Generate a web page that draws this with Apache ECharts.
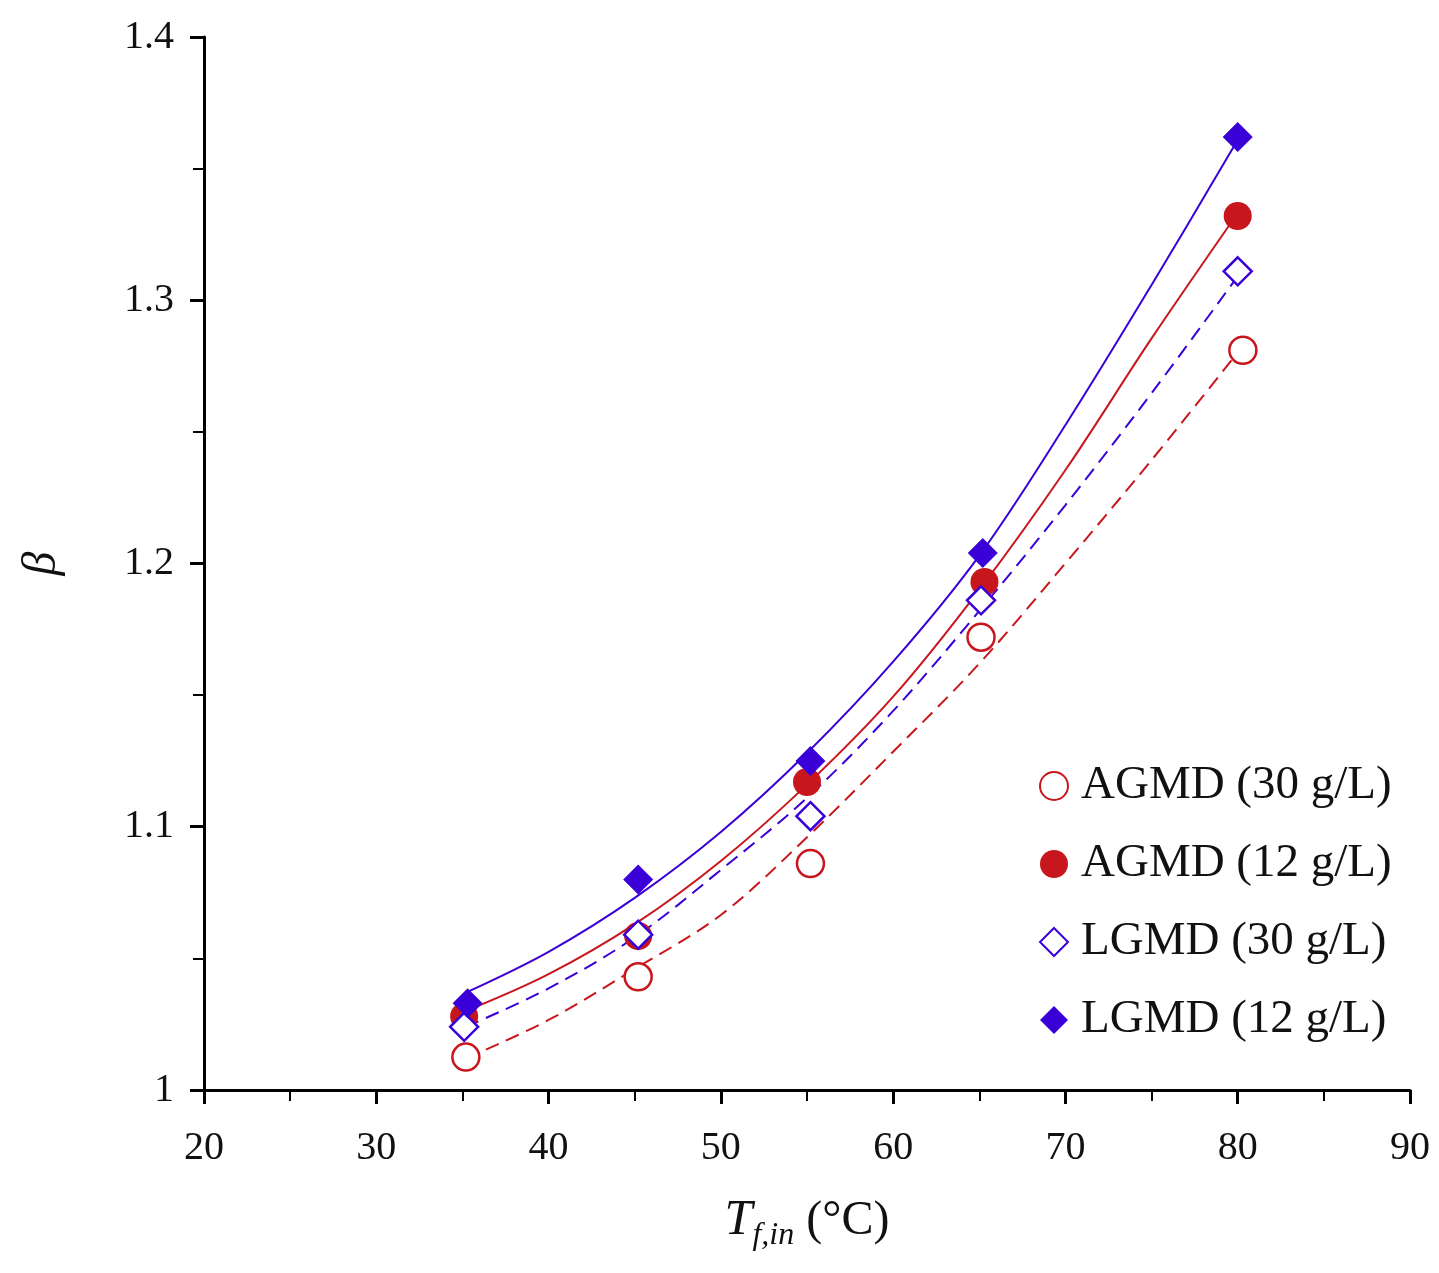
<!DOCTYPE html>
<html>
<head>
<meta charset="utf-8">
<title>beta vs Tf,in</title>
<script src="https://cdn.jsdelivr.net/npm/echarts@6/dist/echarts.min.js"></script>
<style>
  html, body { margin: 0; padding: 0; background: #fff; }
  #main { width: 1439px; height: 1273px; }
</style>
</head>
<body>
<div id="main"></div>
<script>
// measured points (T in degC, beta)
var agmd30T = [35.2, 45.2, 55.2, 65.1, 80.3];
var agmd30B = [1.0125, 1.043, 1.086, 1.172, 1.281];
var agmd12T = [35.1, 45.2, 55.0, 65.3, 80.0];
var agmd12B = [1.028, 1.0585, 1.117, 1.193, 1.332];
var lgmd30T = [35.1, 45.2, 55.2, 65.1, 80.0];
var lgmd30B = [1.024, 1.059, 1.104, 1.186, 1.311];
var lgmd12T = [35.3, 45.2, 55.2, 65.2, 80.0];
var lgmd12B = [1.033, 1.080, 1.125, 1.204, 1.362];

// trend curves
var fitT = [35.2, 40, 45, 50, 55, 60, 65, 70, 75, 80.1];
var fitAgmd30 = [1.012, 1.0266, 1.046, 1.0665, 1.096, 1.1285, 1.162, 1.2001, 1.2393, 1.281];
var fitAgmd12 = [1.030, 1.044, 1.063, 1.087, 1.116, 1.1494, 1.190, 1.2355, 1.2855, 1.334];
var fitLgmd30 = [1.024, 1.0386, 1.058, 1.0836, 1.111, 1.144, 1.182, 1.2222, 1.2647, 1.310];
var fitLgmd12 = [1.037, 1.0525, 1.073, 1.098, 1.128, 1.1627, 1.203, 1.2526, 1.3058, 1.362];

var names = ['AGMD (30 g/L)', 'AGMD (12 g/L)', 'LGMD (30 g/L)', 'LGMD (12 g/L)'];

var RED = '#C8161D', BLUE = '#3A00D8';
var SERIF = '"Liberation Serif", "Times New Roman", serif';

function pairs(xs, ys){
    var out = [];
    for(var i=0; i<xs.length; i++){
        out.push([xs[i], ys[i]]);
    }
    return out;
}

function fitLine(data, color, dashed){
    return {
        type: 'line',
        data: pairs(fitT, data),
        smooth: 0.35,
        showSymbol: false,
        silent: true,
        z: 2,
        lineStyle: { color: color, width: 2, type: dashed ? [14, 8] : 'solid' }
    };
}

function markers(name, xs, ys, symbol, color, open, size){
    return {
        name: name,
        type: 'scatter',
        data: pairs(xs, ys),
        symbol: symbol,
        symbolSize: size,
        z: 5,
        itemStyle: open ? { color: '#fff', borderColor: color, borderWidth: 2.5, opacity: 1 }
                        : { color: color, borderWidth: 0, opacity: 1 }
    };
}

var chart = echarts.init(document.getElementById('main'));

var axisCommon = {
    axisLine: { show: true, onZero: false, lineStyle: { color: '#000', width: 3 } },
    axisTick: { show: true, inside: false, length: 14, lineStyle: { color: '#000', width: 3 } },
    minorTick: { show: true, splitNumber: 2, length: 11, lineStyle: { color: '#000', width: 2 } },
    splitLine: { show: false },
    minorSplitLine: { show: false }
};

var option = {
    backgroundColor: '#fff',
    animation: false,
    grid: { left: 204, top: 37, right: 29, bottom: 183, containLabel: false },
    legend: {
        orient: 'vertical',
        left: 1034,
        top: 756,
        itemWidth: 28,
        itemHeight: 28,
        itemGap: 28,
        selectedMode: false,
        textStyle: { fontFamily: SERIF, fontSize: 47, color: '#111', lineHeight: 50, padding: [0, 0, 0, 8] },
        data: names
    },
    xAxis: Object.assign({}, axisCommon, {
        type: 'value',
        min: 20,
        max: 90,
        interval: 10,
        name: '{t|T}{s|f,in}{u| (°C)}',
        nameLocation: 'middle',
        nameGap: 100,
        nameTextStyle: {
            rich: {
                t: { fontFamily: SERIF, fontStyle: 'italic', fontSize: 50, color: '#111' },
                s: { fontFamily: SERIF, fontStyle: 'italic', fontSize: 32, color: '#111', padding: [30, 0, 0, 0] },
                u: { fontFamily: SERIF, fontSize: 48, color: '#111' }
            }
        },
        axisLabel: { margin: 38, fontFamily: SERIF, fontSize: 40, color: '#111' }
    }),
    yAxis: Object.assign({}, axisCommon, {
        type: 'value',
        min: 1,
        max: 1.4,
        interval: 0.1,
        name: 'β',
        nameLocation: 'middle',
        nameGap: 138,
        nameRotate: 90,
        nameTextStyle: { fontFamily: SERIF, fontStyle: 'italic', fontSize: 48, color: '#111' },
        axisLabel: {
            margin: 30,
            fontFamily: SERIF,
            fontSize: 40,
            color: '#111',
            formatter: function(v){
                return v === 1 ? '1' : v.toFixed(1);
            }
        }
    }),
    series: [
        fitLine(fitAgmd30, RED, true),
        fitLine(fitAgmd12, RED, false),
        fitLine(fitLgmd30, BLUE, true),
        fitLine(fitLgmd12, BLUE, false),
        markers(names[0], agmd30T, agmd30B, 'circle', RED, true, 27),
        markers(names[1], agmd12T, agmd12B, 'circle', RED, false, 28),
        markers(names[2], lgmd30T, lgmd30B, 'diamond', BLUE, true, 28),
        markers(names[3], lgmd12T, lgmd12B, 'diamond', BLUE, false, 30)
    ]
};

chart.setOption(option);
</script>
</body>
</html>
